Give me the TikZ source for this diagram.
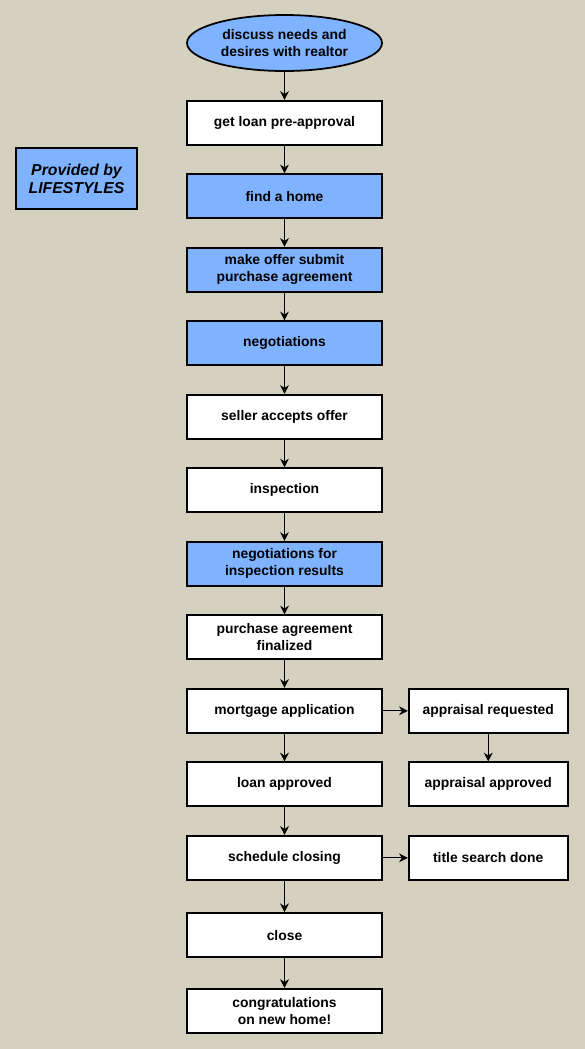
\documentclass[tikz,border=0pt]{standalone}
\usepackage{fontspec}
\setmainfont{Liberation Sans}
\usetikzlibrary{positioning,shapes.geometric,arrows.meta}
\definecolor{bgkhaki}{RGB}{213,209,192}
\definecolor{fillblue}{RGB}{128,179,255}

\begin{document}
\begin{tikzpicture}[main/.style = {draw, line width=1pt, fill=white, minimum width=3.9cm, minimum height=0.88cm, align=center, inner sep=1pt, font=\bfseries\fontsize{7.9}{9.6}\selectfont}, bluebox/.style = {main, fill=fillblue}, side/.style = {main, minimum width=3.18cm}, node distance={0.555cm}, >={Stealth[length=5pt,width=5pt]}]
        \fill[bgkhaki] (0,0) rectangle (11.7,-20.98);
        \node[bluebox, ellipse, minimum width=3.9cm, minimum height=1.12cm, inner sep=0pt] (1) at (5.69,-0.86) {discuss needs and\\desires with realtor};
        \node[main] (2) [below=0.56cm of 1] {get loan pre-approval};
        \node[bluebox] (3) [below=of 2] {find a home};
        \node[bluebox] (4) [below=of 3] {make offer submit\\purchase agreement};
        \node[bluebox] (5) [below=of 4] {negotiations};
        \node[main] (6) [below=of 5] {seller accepts offer};
        \node[main] (7) [below=of 6] {inspection};
        \node[bluebox] (8) [below=of 7] {negotiations for\\inspection results};
        \node[main] (9) [below=of 8] {purchase agreement\\finalized};
        \node[main] (10) [below=of 9] {mortgage application};
        \node[main] (11) [below=of 10] {loan approved};
        \node[main] (12) [below=of 11] {schedule closing};
        \node[main] (13) [below=0.63cm of 12] {close};
        \node[main] (14) [below=0.6cm of 13] {congratulations\\on new home!};
        \node[side] (15) [right=0.5cm of 10] {appraisal requested};
        \node[side] (16) [below=of 15] {appraisal approved};
        \node[side] (17) [right=0.5cm of 12] {title search done};
        \node[bluebox, minimum width=2.42cm, minimum height=1.22cm, font=\bfseries\itshape\fontsize{9}{10.2}\selectfont] (18) at (1.53,-3.57) {Provided by\\LIFESTYLES};
        \draw[->, line width=0.7pt] (1) -- (2);
        \draw[->, line width=0.7pt] (2) -- (3);
        \draw[->, line width=0.7pt] (3) -- (4);
        \draw[->, line width=0.7pt] (4) -- (5);
        \draw[->, line width=0.7pt] (5) -- (6);
        \draw[->, line width=0.7pt] (6) -- (7);
        \draw[->, line width=0.7pt] (7) -- (8);
        \draw[->, line width=0.7pt] (8) -- (9);
        \draw[->, line width=0.7pt] (9) -- (10);
        \draw[->, line width=0.7pt] (10) -- (11);
        \draw[->, line width=0.7pt] (11) -- (12);
        \draw[->, line width=0.7pt] (12) -- (13);
        \draw[->, line width=0.7pt] (13) -- (14);
        \draw[->, line width=0.7pt] (10) -- (15);
        \draw[->, line width=0.7pt] (15) -- (16);
        \draw[->, line width=0.7pt] (12) -- (17);
\end{tikzpicture}
\end{document}
